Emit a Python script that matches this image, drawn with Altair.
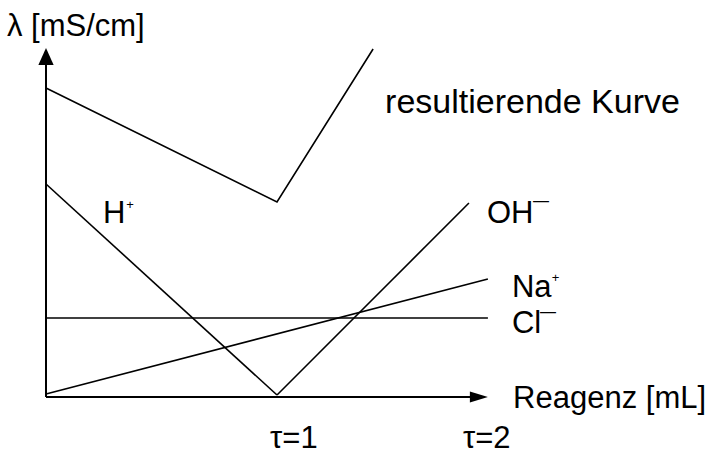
import altair as alt
import pandas as pd

# ---- curve data (x: titration degree tau, y: conductivity, arbitrary units) ----
res_x = [0.0, 1.0, 1.416]
res_y = [309, 195, 348]
h_x = [0.0, 1.0]
h_y = [213, 2]
oh_x = [1.0, 1.831]
oh_y = [2, 194]
na_x = [0.0, 1.913]
na_y = [3, 118]
cl_x = [0.0, 1.913]
cl_y = [79, 79]

# ---- labels (text and anchor in data coordinates) ----
main_text = ["H", "OH", "Na", "Cl", "Reagenz [mL]", "τ=1", "τ=2", "λ [mS/cm]"]
main_x = [0.247, 1.909, 2.017, 2.017, 2.022, 0.970, 1.805, -0.169]
main_y = [174, 174, 100, 64, -11, -51, -51, 361.5]
curve_label = ["resultierende Kurve"]
curve_label_x = [1.468]
curve_label_y = [284]
plus_x = [0.364, 2.206]
plus_y = [188, 115.5]
minus_x = [2.108, 2.139]
minus_y = [191.3, 80.5]

# ---- axis geometry (data coordinates) ----
axis_x = [0.0, 0.0]
axis_x2 = [0.0, 1.87]
axis_y = [0.0, 0.0]
axis_y2 = [340.0, 0.0]

rows = []
for name, xs_, ys_ in [("res", res_x, res_y), ("H", h_x, h_y), ("OH", oh_x, oh_y),
                       ("Na", na_x, na_y), ("Cl", cl_x, cl_y)]:
    for x, y in zip(xs_, ys_):
        rows.append({"series": name, "x": x, "y": y})
curves = pd.DataFrame(rows)

main_df = pd.DataFrame({"t": main_text, "x": main_x, "y": main_y})
curve_df = pd.DataFrame({"t": curve_label, "x": curve_label_x, "y": curve_label_y})
plus_df = pd.DataFrame({"t": ["+"] * len(plus_x), "x": plus_x, "y": plus_y})
minus_df = pd.DataFrame({"t": ["—"] * len(minus_x), "x": minus_x, "y": minus_y})
axes_df = pd.DataFrame({"x": axis_x, "x2": axis_x2, "y": axis_y, "y2": axis_y2})
yhead_df = pd.DataFrame({"x": [0.0], "y": [340.5]})
xhead_df = pd.DataFrame({"x": [1.874], "y": [0.0]})

xs = alt.Scale(domain=[0, 2], nice=False, zero=False)
ys = alt.Scale(domain=[0, 349], nice=False, zero=False)


def X():
    return alt.X("x:Q", scale=xs, axis=None)


def Y():
    return alt.Y("y:Q", scale=ys, axis=None)


lines = alt.Chart(curves).mark_line(color="black", strokeWidth=1.6).encode(
    x=X(), y=Y(), detail="series:N")

axes = alt.Chart(axes_df).mark_rule(color="black", strokeWidth=2).encode(
    x=X(), x2="x2:Q", y=Y(), y2="y2:Q")
y_head = alt.Chart(yhead_df).mark_point(shape="M0,-1L0.9,1L-0.9,1Z", filled=True, size=289,
                                        color="black", opacity=1).encode(x=X(), y=Y())
x_head = alt.Chart(xhead_df).mark_point(shape="M1,0L-1,-0.6L-1,0.6Z", filled=True, size=324,
                                        color="black", opacity=1).encode(x=X(), y=Y())

font = "Liberation Sans"
main_txt = alt.Chart(main_df).mark_text(align="left", baseline="alphabetic", font=font,
                                        fontSize=31, color="black").encode(
    x=X(), y=Y(), text="t:N")
curve_txt = alt.Chart(curve_df).mark_text(align="left", baseline="alphabetic", font=font,
                                          fontSize=34, color="black").encode(
    x=X(), y=Y(), text="t:N")
plus_txt = alt.Chart(plus_df).mark_text(align="center", baseline="alphabetic", font=font,
                                        fontSize=13, color="black").encode(
    x=X(), y=Y(), text="t:N")
minus_txt = alt.Chart(minus_df).mark_text(align="left", baseline="alphabetic", font=font,
                                          fontSize=16, color="black").encode(
    x=X(), y=Y(), text="t:N")

chart = alt.layer(axes, lines, y_head, x_head, main_txt, curve_txt, plus_txt, minus_txt).properties(
    width=462, height=349,
    autosize=alt.AutoSizeParams(type="none"),
    padding={"left": 46, "top": 48, "right": 204, "bottom": 59},
    background="white",
).configure_view(stroke=None)

chart.save("out.html", embed_options={"renderer": "svg", "actions": False})
